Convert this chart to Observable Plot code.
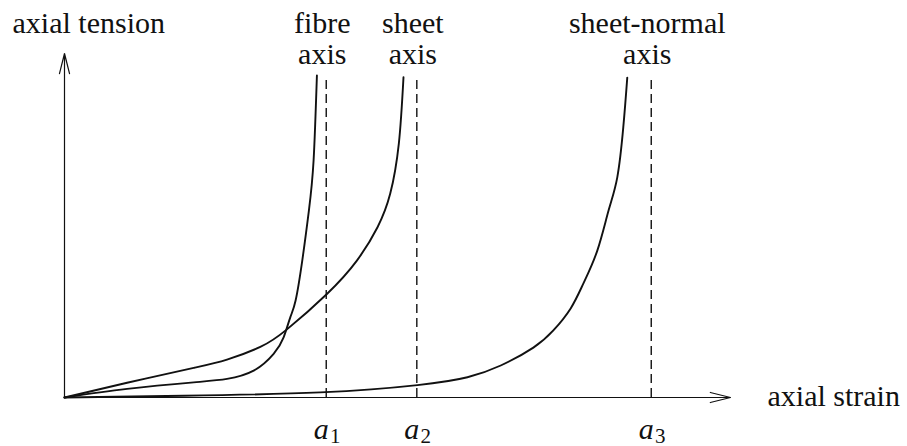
<!DOCTYPE html>
<html>
<head>
<meta charset="utf-8">
<script src="https://cdn.jsdelivr.net/npm/d3@7"></script>
<script src="https://cdn.jsdelivr.net/npm/@observablehq/plot@0.6"></script>
<style>
  html, body { margin: 0; padding: 0; background: #fff; }
  #chart svg { display: block; }
</style>
</head>
<body>
<div id="chart"></div>
<script>
// ---- data ----
const fibreStrain   = [0, 0.94, 1.94, 2.44, 2.84, 3.14, 3.29, 3.39, 3.47, 3.57, 3.67, 3.74, 3.79];
const fibreTension  = [0, 0.25, 0.44, 0.54, 0.78, 1.27, 1.75, 2.33, 2.82, 3.98, 5.44, 6.89, 9.36];
const sheetStrain   = [0, 0.94, 1.94, 2.44, 2.94, 3.34, 3.94, 4.39, 4.70, 4.89, 5.02, 5.09];
const sheetTension  = [0, 0.43, 0.86, 1.10, 1.47, 1.98, 3.01, 3.98, 4.95, 5.92, 7.38, 9.31];
const normalStrain  = [0, 1.79, 3.84, 5.30, 6.05, 6.55, 7.04, 7.34, 7.60, 7.79, 8.00, 8.17, 8.30, 8.39, 8.45];
const normalTension = [0, 0.05, 0.15, 0.36, 0.59, 0.93, 1.45, 1.95, 2.59, 3.31, 4.27, 5.44, 6.40, 7.85, 9.30];

const asymptotes      = [3.93, 5.29, 8.81];          // a1, a2, a3 (strain)
const asymptoteTop    = 9.36;                        // top of the dashed lines (tension)
const curveLabels     = ["fibre\naxis", "sheet\naxis", "sheet-normal\naxis"];
const asymptoteSymbol = ["a", "a", "a"];
const asymptoteIndex  = ["1", "2", "3"];
const xAxisLabel = "axial strain";
const yAxisLabel = "axial tension";
const strainMax  = 10;
const tensionMax = 10;

// ---- build tables ----
const toRows = (xs, ys) => xs.map((x, i) => ({strain: x, tension: ys[i]}));
const fibre  = toRows(fibreStrain, fibreTension);
const sheet  = toRows(sheetStrain, sheetTension);
const normal = toRows(normalStrain, normalTension);
const asym = asymptotes.map((a, i) => ({a, label: curveLabels[i], sym: asymptoteSymbol[i], idx: asymptoteIndex[i]}));
const axesArrows = [
  {x1: 0, y1: 0, x2: strainMax, y2: 0},
  {x1: 0, y1: 0, x2: 0, y2: tensionMax}
];

const serif = "'Liberation Serif', 'Times New Roman', serif";
const ink = "#111";

const chart = Plot.plot({
  width: 907,
  height: 446,
  marginLeft: 64,
  marginRight: 177,
  marginTop: 53,
  marginBottom: 49,
  style: {background: "#fff", fontFamily: serif, color: ink},
  x: {domain: [0, strainMax], axis: null},
  y: {domain: [0, tensionMax], axis: null},
  marks: [
    Plot.ruleX(asym, {x: "a", y1: 0, y2: asymptoteTop, stroke: ink, strokeWidth: 1.4, strokeDasharray: "9,5"}),
    Plot.arrow(axesArrows, {x1: "x1", y1: "y1", x2: "x2", y2: "y2", stroke: ink, strokeWidth: 1.2, headAngle: 28, headLength: 26}),
    Plot.line(fibre,  {x: "strain", y: "tension", curve: "natural", stroke: ink, strokeWidth: 1.9}),
    Plot.line(sheet,  {x: "strain", y: "tension", curve: "natural", stroke: ink, strokeWidth: 1.9}),
    Plot.line(normal, {x: "strain", y: "tension", curve: "natural", stroke: ink, strokeWidth: 1.9}),
    // curve labels above each asymptote
    Plot.text(asym, {x: "a", frameAnchor: "top", text: "label", lineAnchor: "bottom", lineHeight: 1.03,
      dx: -4, dy: 10, fontSize: 30, fill: ink, fontFamily: serif}),
    // asymptote symbols a_i
    Plot.text(asym, {x: "a", y: 0, text: "sym", lineAnchor: "bottom", dx: -5, dy: 41,
      fontSize: 30, fontStyle: "italic", fill: ink, fontFamily: serif}),
    Plot.text(asym, {x: "a", y: 0, text: "idx", lineAnchor: "bottom", dx: 9, dy: 45,
      fontSize: 21, fill: ink, fontFamily: serif}),
    // axis labels
    Plot.text([xAxisLabel], {x: strainMax, y: 0, text: d => d, textAnchor: "start", lineAnchor: "bottom",
      dx: 37, dy: 8, fontSize: 30, fill: ink, fontFamily: serif}),
    Plot.text([yAxisLabel], {x: 0, y: tensionMax, text: d => d, textAnchor: "start", lineAnchor: "bottom",
      dx: -52, dy: -21, fontSize: 30, fill: ink, fontFamily: serif})
  ]
});
document.getElementById("chart").appendChild(chart);
</script>
</body>
</html>
